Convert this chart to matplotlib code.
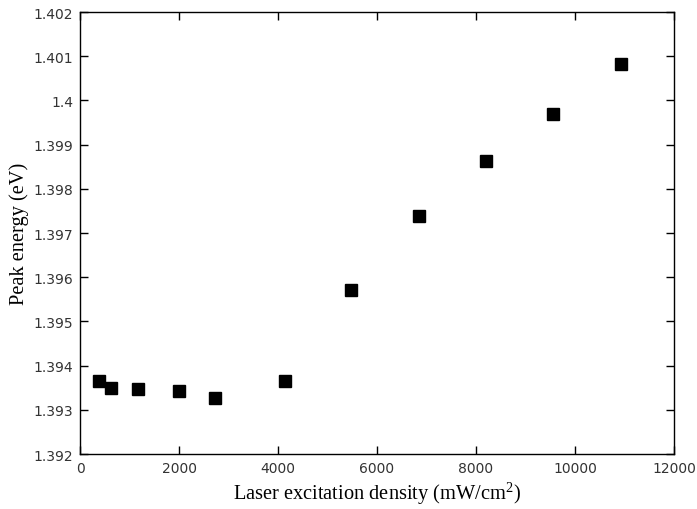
import matplotlib
matplotlib.use("Agg")
import matplotlib.pyplot as plt
import matplotlib.ticker as mticker

# Data
density = [384, 626, 1166, 2006, 2734, 4141, 5475, 6848, 8202, 9556, 10935]
peak_energy = [1.39365, 1.39350, 1.39346, 1.39343, 1.39326, 1.39365,
               1.39571, 1.39738, 1.39862, 1.39969, 1.40082]

x_ticks = [0, 2000, 4000, 6000, 8000, 10000, 12000]
y_ticks = [1.392, 1.393, 1.394, 1.395, 1.396, 1.397, 1.398, 1.399, 1.4, 1.401, 1.402]

plt.rcParams["mathtext.fontset"] = "custom"
plt.rcParams["mathtext.rm"] = "Liberation Serif"

fig = plt.figure(figsize=(6.97, 5.10), dpi=100)
ax = fig.add_axes([0.1148, 0.1078, 0.8522, 0.8667])

ax.plot(density, peak_energy, linestyle="none", marker="s", markersize=9,
        color="black")

ax.set_xlim(0, 12000)
ax.set_ylim(1.392, 1.402)
ax.set_xticks(x_ticks)
ax.set_yticks(y_ticks)
ax.yaxis.set_major_formatter(mticker.FormatStrFormatter("%g"))
ax.xaxis.set_major_formatter(mticker.FormatStrFormatter("%g"))

ax.tick_params(direction="in", length=6, width=1, top=True, right=True,
               labelsize=10, labelcolor="#333333", pad=5)
for s in ax.spines.values():
    s.set_linewidth(1)

label_font = {"family": "Liberation Serif", "size": 14.7}
ax.set_xlabel("Laser excitation density (mW/cm$^2$)", fontdict=label_font, labelpad=3)
ax.set_ylabel("Peak energy (eV)", fontdict=label_font, labelpad=3)

fig.savefig("out.png", dpi=100, facecolor="white")
